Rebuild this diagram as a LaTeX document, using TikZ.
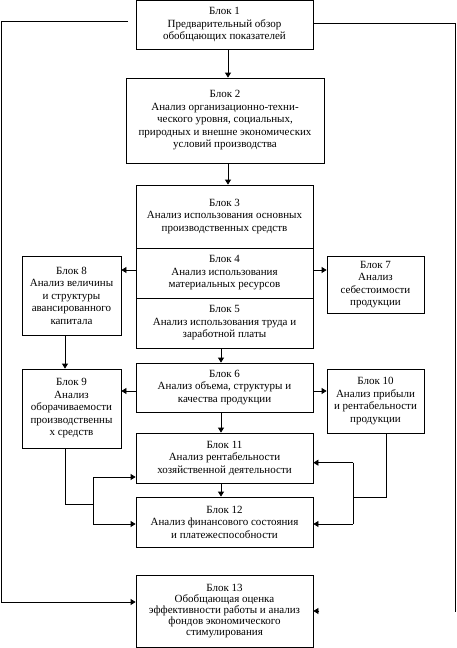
\documentclass[tikz,border=0pt]{standalone}
\usepackage{fontspec}
\setmainfont{Liberation Serif}
\usetikzlibrary{arrows.meta}
\begin{document}
\begin{tikzpicture}[x=1pt,y=-1pt,
  blk/.style={draw,line width=0.8pt,align=center,inner sep=0pt,font=\fontsize{11}{12.5}\selectfont},
  arr/.style={line width=0.8pt,-{Triangle[length=5pt,width=6pt]}},
  ln/.style={line width=0.8pt}]
\useasboundingbox (0,0) rectangle (456,648);
\node[blk,minimum width=177pt,minimum height=49pt] (b1) at (224.5,25) {Блок 1\\Предварительный обзор\\обобщающих показателей};
\node[blk,minimum width=198pt,minimum height=85pt] (b2) at (225,120.5) {Блок 2\\Анализ организационно-техни-\\ческого уровня, социальных,\\природных и внешне экономических\\условий производства};
\node[blk,minimum width=177pt,minimum height=63pt] (b3) at (224.5,216.5) {Блок 3\\Анализ использования основных\\производственных средств};
\node[blk,minimum width=177pt,minimum height=50pt] (b4) at (224.5,273) {Блок 4\\Анализ использования\\материальных ресурсов};
\node[blk,minimum width=177pt,minimum height=50pt] (b5) at (224.5,323) {Блок 5\\Анализ использования труда и\\заработной платы};
\node[blk,minimum width=99pt,minimum height=79pt] (b8) at (71.5,295.5) {Блок 8\\Анализ величины\\и структуры\\авансированного\\капитала};
\node[blk,minimum width=97pt,minimum height=57pt] (b7) at (375.5,284.5) {Блок 7\\Анализ\\себестоимости\\продукции};
\node[blk,minimum width=177pt,minimum height=49pt] (b6) at (224.5,387.5) {Блок 6\\Анализ объема, структуры и\\качества продукции};
\node[blk,minimum width=99pt,minimum height=79pt] (b9) at (71.5,408.5) {Блок 9\\Анализ\\оборачиваемости\\производственны\\х средств};
\node[blk,minimum width=97pt,minimum height=64pt] (b10) at (375.5,401) {Блок 10\\Анализ прибыли\\и рентабельности\\продукции};
\node[blk,minimum width=177pt,minimum height=50pt] (b11) at (224.5,458) {Блок 11\\Анализ рентабельности\\хозяйственной деятельности};
\node[blk,minimum width=177pt,minimum height=50pt] (b12) at (224.5,522) {Блок 12\\Анализ финансового состояния\\и платежеспособности};
\node[blk,minimum width=177pt,minimum height=72pt,font=\fontsize{11}{11.2}\selectfont] (b13) at (224.5,611) {Блок 13\\Обобщающая оценка\\эффективности работы и анализ\\фондов экономического\\стимулирования};
% helper coordinates
\coordinate (cA) at (228,0);
\coordinate (cB) at (221,0);
\coordinate (cL) at (65,0);
\coordinate (cR) at (386,0);
\coordinate (L1) at (128,21);
\coordinate (L2) at (1.5,602);
\coordinate (R2) at (455,612);
\coordinate (J9) at (93,504);
\coordinate (J10) at (353,497);
% main column
\draw[arr] (b1.south -| cA) -- (b2.north -| cA);
\draw[arr] (b2.south -| cA) -- (b3.north -| cA);
\draw[arr] (b5.south -| cB) -- (b6.north -| cB);
\draw[arr] (b6.south -| cB) -- (b11.north -| cB);
\draw[arr] (b11.south -| cB) -- (b12.north -| cB);
% side arrows
\draw[arr] ([yshift=3pt]b4.west) -- ([yshift=3pt]b4.west -| b8.east);
\draw[arr] ([yshift=3pt]b4.east) -- ([yshift=3pt]b4.east -| b7.west);
\draw[arr] ([yshift=-3.5pt]b6.west) -- ([yshift=-3.5pt]b6.west -| b9.east);
\draw[arr] ([yshift=-3.5pt]b6.east) -- ([yshift=-3.5pt]b6.east -| b10.west);
\draw[arr] (b8.south -| cL) -- (b9.north -| cL);
% block 9 feedback
\draw[ln] (b9.south -| cL) |- (J9);
\draw[ln] ([yshift=-19pt]b11.west -| J9) -- ([yshift=-2pt]b12.west -| J9);
\draw[arr] ([yshift=-19pt]b11.west -| J9) -- ([yshift=-19pt]b11.west);
\draw[arr] ([yshift=-2pt]b12.west -| J9) -- ([yshift=-2pt]b12.west);
% block 10 feedback
\draw[ln] (b10.south -| cR) |- (J10);
\draw[ln] ([yshift=-4.7pt]b11.east -| J10) -- ([yshift=-2pt]b12.east -| J10);
\draw[arr] ([yshift=-4.7pt]b11.east -| J10) -- ([yshift=-4.7pt]b11.east);
\draw[arr] ([yshift=-2pt]b12.east -| J10) -- ([yshift=-2pt]b12.east);
% outer loops
\draw[arr] (L1) -| (L2) -- (L2 -| b13.west);
\draw[ln] ([yshift=2pt]b1.east) -| (R2);
\draw[arr] ([xshift=6pt]b13.east) -- (b13.east);
\end{tikzpicture}
\end{document}
